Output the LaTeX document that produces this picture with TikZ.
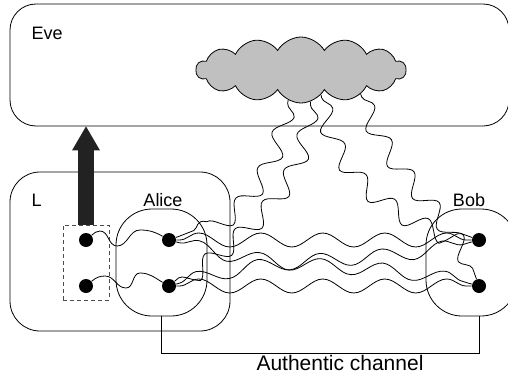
\documentclass[tikz,border=0pt]{standalone}
\usepackage{fontspec}
\setmainfont{Liberation Sans}
\usetikzlibrary{positioning,shapes.symbols,decorations.pathmorphing,arrows.meta}
\definecolor{cloudgray}{RGB}{192,192,192}
\definecolor{arrowgray}{RGB}{34,34,34}
\begin{document}
\begin{tikzpicture}[x=1pt,y=1pt,node distance=46pt,line width=0.8pt,
  every node/.style={font=\fontsize{18}{20}\selectfont},
  box/.style={draw,rounded corners=30pt,inner sep=0pt},
  dot/.style={fill,circle,inner sep=0pt,minimum size=14pt},
  wave/.style={decorate,decoration={snake,segment length=62pt,amplitude=7pt,pre length=3pt,post length=3pt}},
  squiggle/.style={decorate,decoration={snake,segment length=40pt,amplitude=9pt,pre length=3pt,post length=3pt}}]
\useasboundingbox (0,0) rectangle (508,376);
\clip (0,0) rectangle (508,376);
% boxes
\node (eve) [box,rounded corners=26pt,minimum width=499pt,minimum height=122pt] at (259.5,311) {};
\node (lbox) [box,minimum width=220pt,minimum height=159pt] at (120,124.5) {};
\node (alice) [box,rounded corners=36pt,minimum width=91pt,minimum height=107pt] at (161.5,113.5) {};
\node (bob) [box,rounded corners=36pt,minimum width=91pt,minimum height=107pt] at (471.5,113.5) {};
\node (key) [draw=black!70,dash pattern=on 4pt off 3pt,minimum width=46pt,minimum height=75pt] at (86,113.5) {};
\node (cloud) [cloud,draw,fill=cloudgray,cloud puffs=14,cloud puff arc=120,aspect=2.5,
  minimum width=210pt,minimum height=66pt,inner sep=0pt] at (301,306) {};
% labels
\node (evelabel) [anchor=west] at (28,343) {Eve};
\node (llabel) [anchor=west] at (28,176) {L};
\node (alicelabel) at (163,176) {Alice};
\node (boblabel) at (469,176) {Bob};
% dots
\node (l1) [dot] at (86,136) {};
\node (l2) [dot,below of=l1] {};
\node (a1) [dot] at (169,136) {};
\node (a2) [dot,below of=a1] {};
\node (b1) [dot] at (479,136) {};
\node (b2) [dot,below of=b1] {};
%
\draw[line width=16pt,draw=arrowgray,-{Triangle[width=28pt,length=24pt,line width=0pt,fill=arrowgray]}] (key.north) -- (key.north |- eve.south);
%
\draw (l1) to[out=40,in=180] ++(14,9) to[out=0,in=180] ++(17,-15) to[out=0,in=180] ++(23,16) to[out=0,in=150] (a1);
\draw (l2) to[out=40,in=180] ++(19,10) to[out=0,in=180] ++(21,-12) to[out=0,in=180] ++(14,15) to[out=0,in=150] (a2);
%
\draw[wave] (a1) -- (b1);
\draw[wave] (a2) -- (b2);
\draw[wave] (a1) to[out=-15,in=165] (b2);
\draw[wave] (a2) to[out=15,in=195] (b1);
%
\draw[squiggle] (cloud.-113) to[out=-100,in=20] (a1);
\draw[squiggle] (cloud.-73) to[out=-95,in=40] (a2);
\draw[squiggle] (cloud.-51) to[out=-80,in=160] (b1);
\draw[squiggle] (cloud.-22) to[out=-70,in=110] (b2);
%
\coordinate (ch) at (0,23);
\draw (alice.south) -- (alice.south |- ch) -- (b2 |- ch) -- (b2 |- bob.south);
\node (chlabel) [font=\fontsize{21}{24}\selectfont] at (340,13) {Authentic channel};
%
\end{tikzpicture}
\end{document}
